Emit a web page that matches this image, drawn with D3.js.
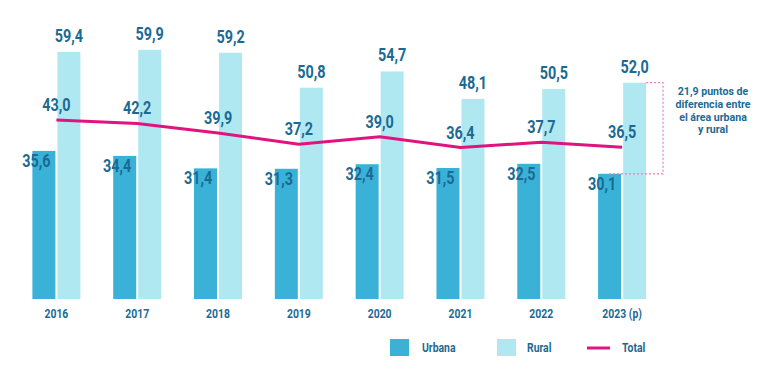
<!DOCTYPE html>
<html>
<head>
<meta charset="utf-8">
<script src="https://cdn.jsdelivr.net/npm/d3@7"></script>
<style>
  body { margin: 0; background: #fff; }
  svg text { font-family: "Roboto", "Liberation Sans", sans-serif; font-weight: bold; fill: #1b6a93; }
</style>
</head>
<body>
<div id="chart"></div>
<script>
// data
var years = ["2016", "2017", "2018", "2019", "2020", "2021", "2022", "2023 (p)"];
var urbana = [35.6, 34.4, 31.4, 31.3, 32.4, 31.5, 32.5, 30.1];
var rural = [59.4, 59.9, 59.2, 50.8, 54.7, 48.1, 50.5, 52.0];
var total = [43.0, 42.2, 39.9, 37.2, 39.0, 36.4, 37.7, 36.5];
var noteLines = ["21,9 puntos de", "diferencia entre", "el área urbana", "y rural"];

var width = 768, height = 381;
var squeeze = 0.8; // font in the original is condensed
var fmt = function(v) { return v.toFixed(1).replace(".", ","); };

var svg = d3.select("#chart").append("svg")
  .attr("width", width)
  .attr("height", height);

var x = d3.scaleBand()
  .domain(years)
  .range([16, 662.5])
  .padding(0);

var y = d3.scaleLinear()
  .domain([0, 60])
  .range([299, 49.4]);

var barW = 23;
var cx = function(d) { return x(d) + x.bandwidth() / 2; };

// place a condensed text at (px, py)
function placeText(sel, px, py, s) {
  sel.attr("transform", function(d, i) {
    return "translate(" + px(d, i) + "," + py(d, i) + ") scale(" + (s || squeeze) + ",1)";
  });
}

var groups = svg.selectAll("g.year")
  .data(years)
  .enter()
  .append("g")
  .attr("class", "year");

// urbana bars
groups.append("rect")
  .attr("x", function(d) { return cx(d) - barW - 1; })
  .attr("y", function(d, i) { return y(urbana[i]); })
  .attr("width", barW)
  .attr("height", function(d, i) { return y(0) - y(urbana[i]); })
  .style("fill", "#3ab2d8");

// rural bars
groups.append("rect")
  .attr("x", function(d) { return cx(d) + 1; })
  .attr("y", function(d, i) { return y(rural[i]); })
  .attr("width", barW)
  .attr("height", function(d, i) { return y(0) - y(rural[i]); })
  .style("fill", "#b0e8f1");

// total line
var line = d3.line()
  .x(function(d, i) { return cx(years[i]); })
  .y(function(d) { return y(d); });

svg.append("path")
  .datum(total)
  .attr("d", line)
  .style("fill", "none")
  .style("stroke", "#e0137f")
  .style("stroke-width", 3);

// value labels
groups.append("text")
  .attr("text-anchor", "middle")
  .style("font-size", "18px")
  .text(function(d, i) { return fmt(rural[i]); })
  .call(placeText, function(d) { return cx(d) + 1 + barW / 2; },
                   function(d, i) { return y(rural[i]) - 10; });

groups.append("text")
  .attr("text-anchor", "middle")
  .style("font-size", "18px")
  .text(function(d, i) { return fmt(total[i]); })
  .call(placeText, function(d) { return cx(d); },
                   function(d, i) { return y(total[i]) - 9; });

groups.append("text")
  .attr("text-anchor", "middle")
  .style("font-size", "18px")
  .text(function(d, i) { return fmt(urbana[i]); })
  .call(placeText, function(d) { return cx(d) - 20; },
                   function(d, i) { return y(urbana[i]) + 16; });

// year axis labels
groups.append("text")
  .attr("text-anchor", "middle")
  .style("font-size", "13px")
  .text(function(d) { return d; })
  .call(placeText, function(d) { return cx(d); }, function() { return 318; });

// difference bracket for the last year
var last = years.length - 1;
var lx = cx(years[last]);
svg.append("path")
  .attr("d", "M" + (lx + 1 + barW) + "," + y(rural[last]) +
             "H663V" + y(urbana[last]) + "H" + (lx - 14))
  .style("fill", "none")
  .style("stroke", "#ee7cb8")
  .style("stroke-width", 1.2)
  .style("stroke-dasharray", "2,2");

// note beside the bracket, one text per line
svg.selectAll("text.note")
  .data(noteLines)
  .enter()
  .append("text")
  .attr("class", "note")
  .attr("text-anchor", "middle")
  .style("font-size", "10.6px")
  .text(function(d) { return d; })
  .call(placeText, function() { return 713; },
                   function(d, i) { return 95 + i * 12.8; }, 1);

// legend
var legend = svg.append("g");
legend.append("rect").attr("x", 390).attr("y", 339).attr("width", 19).attr("height", 17).style("fill", "#3ab2d8");
legend.append("text").attr("transform", "translate(422,352) scale(" + squeeze + ",1)").style("font-size", "13px").text("Urbana");
legend.append("rect").attr("x", 497).attr("y", 339).attr("width", 19).attr("height", 17).style("fill", "#b0e8f1");
legend.append("text").attr("transform", "translate(527,352) scale(" + squeeze + ",1)").style("font-size", "13px").text("Rural");
legend.append("line").attr("x1", 587).attr("x2", 610).attr("y1", 348).attr("y2", 348)
  .style("stroke", "#e0137f").style("stroke-width", 3);
legend.append("text").attr("transform", "translate(622,352) scale(" + squeeze + ",1)").style("font-size", "13px").text("Total");
</script>
</body>
</html>
